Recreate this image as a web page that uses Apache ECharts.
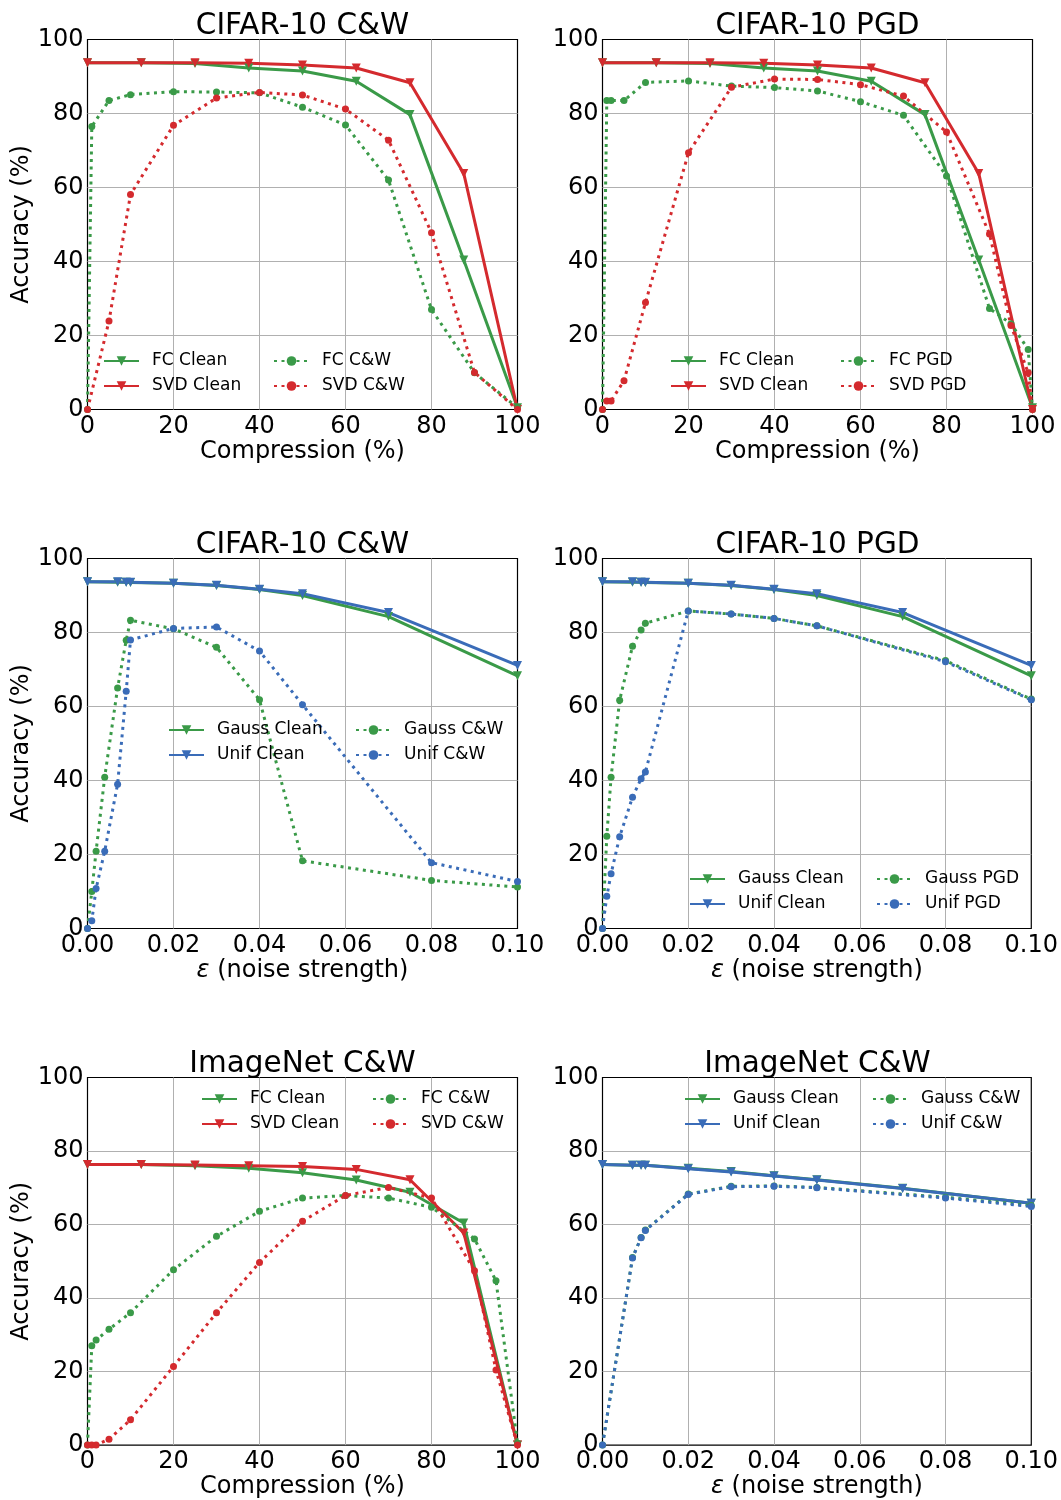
<!DOCTYPE html>
<html>
<head>
<meta charset="utf-8">
<script src="https://cdn.jsdelivr.net/npm/echarts@6/dist/echarts.min.js"></script>
<style>
  html, body { margin: 0; padding: 0; background: #fff; }
  #main { width: 1061px; height: 1500px; }
</style>
</head>
<body>
<div id="main"></div>
<script>
// x values
var compClean = [0, 12.5, 25, 37.5, 50, 62.5, 75, 87.5, 100]
var compAtk1 = [0, 1, 5, 10, 20, 30, 40, 50, 60, 70, 80, 90, 100]
var compAtk1Svd = [0, 5, 10, 20, 30, 40, 50, 60, 70, 80, 90, 100]
var compAtk2 = [0, 1, 2, 5, 10, 20, 30, 40, 50, 60, 70, 80, 90, 95, 99, 100]
var compAtk5 = [0, 1, 2, 5, 10, 20, 30, 40, 50, 60, 70, 80, 90, 95, 100]
var epsClean = [0, 0.007, 0.009, 0.01, 0.02, 0.03, 0.04, 0.05, 0.07, 0.1]
var epsAtk = [0, 0.001, 0.002, 0.004, 0.007, 0.009, 0.01, 0.02, 0.03, 0.04, 0.05, 0.08, 0.1]
var epsAtk6 = [0, 0.007, 0.009, 0.01, 0.02, 0.03, 0.04, 0.05, 0.08, 0.1]

// CIFAR-10 compression
var cifarFcClean = [93.7, 93.7, 93.5, 92.3, 91.5, 88.7, 79.7, 40.4, 0.5]
var cifarSvdClean = [93.7, 93.7, 93.7, 93.6, 93.1, 92.3, 88.3, 63.8, 0]
var cifarFcCw = [0, 76.5, 83.5, 85.1, 85.9, 85.8, 85.6, 81.7, 76.9, 62.0, 27.0, 9.9, 0.5]
var cifarSvdCw = [0, 23.9, 58.1, 76.8, 84.2, 85.7, 85.0, 81.2, 72.8, 47.8, 10.0, 0]
var cifarFcPgd = [0, 83.5, 83.5, 83.5, 88.4, 88.8, 87.4, 87.0, 86.1, 83.2, 79.5, 63.1, 27.3, 23.2, 16.2, 0]
var cifarSvdPgd = [0, 2.3, 2.3, 7.8, 28.9, 69.4, 87.1, 89.3, 89.2, 87.8, 84.7, 75.0, 47.4, 22.7, 9.9, 0]

// CIFAR-10 noise
var cifarGaussClean = [93.7, 93.6, 93.6, 93.5, 93.3, 92.7, 91.6, 90.0, 84.3, 68.3]
var cifarUnifClean = [93.7, 93.7, 93.6, 93.6, 93.3, 92.8, 91.7, 90.5, 85.4, 71.1]
var cifarGaussCw = [0, 10.0, 20.9, 40.9, 65.0, 77.9, 83.3, 81.0, 76.0, 61.8, 18.3, 13.0, 11.2]
var cifarUnifCw = [0, 2.1, 10.8, 20.9, 39.0, 64.1, 78.0, 81.1, 81.5, 75.0, 60.5, 17.8, 12.7]
var cifarGaussPgd = [0, 24.9, 40.9, 61.7, 76.3, 80.7, 82.5, 85.8, 85.0, 83.8, 81.8, 72.4, 62.0]
var cifarUnifPgd = [0, 8.7, 14.8, 24.8, 35.5, 40.5, 42.3, 85.8, 85.0, 83.8, 81.8, 72.1, 61.8]

// ImageNet compression
var imnFcClean = [76.3, 76.3, 76.0, 75.3, 74.1, 72.1, 68.8, 60.4, 0]
var imnSvdClean = [76.3, 76.3, 76.2, 76.0, 75.8, 75.0, 72.2, 57.7, 0]
var imnFcCw = [0, 27.0, 28.6, 31.5, 36.0, 47.7, 56.8, 63.6, 67.2, 67.9, 67.2, 64.7, 56.1, 44.7, 0.5]
var imnSvdCw = [0, 0, 0, 1.6, 6.9, 21.4, 36.0, 49.7, 60.9, 67.9, 70.1, 67.2, 47.4, 20.4, 0]

// ImageNet noise
var imnGaussClean = [76.3, 76.1, 76.1, 76.1, 75.3, 74.4, 73.3, 72.2, 69.9, 65.8]
var imnUnifClean = [76.3, 76.1, 76.1, 76.1, 75.2, 74.3, 73.2, 72.1, 69.8, 65.8]
var imnGaussCw = [0, 51.0, 56.5, 58.5, 68.3, 70.4, 70.5, 70.1, 67.4, 65.2]
var imnUnifCw = [0, 50.9, 56.4, 58.4, 68.2, 70.3, 70.4, 70.0, 67.2, 64.9]

var titles = ['CIFAR-10 C&W', 'CIFAR-10 PGD', 'CIFAR-10 C&W', 'CIFAR-10 PGD', 'ImageNet C&W', 'ImageNet C&W']

var GREEN = '#3a9a48', RED = '#d42a2e', BLUE = '#3a6cb8'
var FONT = 'DejaVu Sans'

function pairs(xs, ys) {
    return xs.map(function (x, i) { return [x, ys[i]] })
}

// panel geometry
var W = 430, H = 370
var lefts = [87.5, 602.5]
var tops = [39.5, 558.5, 1077.5]

// legend positions: [col1 left, col2 left, first row center y]
var legendPos = [
    [103, 273, 361],
    [670, 840, 361],
    [168, 355, 730],
    [689, 876, 879],
    [201, 372, 1099],
    [684, 872, 1099]
]

var panels = [
    { kind: 'comp', series: [
        ['FC Clean', GREEN, 'clean', compClean, cifarFcClean],
        ['SVD Clean', RED, 'clean', compClean, cifarSvdClean],
        ['FC C&W', GREEN, 'atk', compAtk1, cifarFcCw],
        ['SVD C&W', RED, 'atk', compAtk1Svd, cifarSvdCw]] },
    { kind: 'comp', series: [
        ['FC Clean', GREEN, 'clean', compClean, cifarFcClean],
        ['SVD Clean', RED, 'clean', compClean, cifarSvdClean],
        ['FC PGD', GREEN, 'atk', compAtk2, cifarFcPgd],
        ['SVD PGD', RED, 'atk', compAtk2, cifarSvdPgd]] },
    { kind: 'eps', series: [
        ['Gauss Clean', GREEN, 'clean', epsClean, cifarGaussClean],
        ['Unif Clean', BLUE, 'clean', epsClean, cifarUnifClean],
        ['Gauss C&W', GREEN, 'atk', epsAtk, cifarGaussCw],
        ['Unif C&W', BLUE, 'atk', epsAtk, cifarUnifCw]] },
    { kind: 'eps', series: [
        ['Gauss Clean', GREEN, 'clean', epsClean, cifarGaussClean],
        ['Unif Clean', BLUE, 'clean', epsClean, cifarUnifClean],
        ['Gauss PGD', GREEN, 'atk', epsAtk, cifarGaussPgd],
        ['Unif PGD', BLUE, 'atk', epsAtk, cifarUnifPgd]] },
    { kind: 'comp', series: [
        ['FC Clean', GREEN, 'clean', compClean, imnFcClean],
        ['SVD Clean', RED, 'clean', compClean, imnSvdClean],
        ['FC C&W', GREEN, 'atk', compAtk5, imnFcCw],
        ['SVD C&W', RED, 'atk', compAtk5, imnSvdCw]] },
    { kind: 'eps', series: [
        ['Gauss Clean', GREEN, 'clean', epsClean, imnGaussClean],
        ['Unif Clean', BLUE, 'clean', epsClean, imnUnifClean],
        ['Gauss C&W', GREEN, 'atk', epsAtk6, imnGaussCw],
        ['Unif C&W', BLUE, 'atk', epsAtk6, imnUnifCw]] }
]

var option = {
    animation: false,
    backgroundColor: '#fff',
    textStyle: { fontFamily: FONT },
    title: [], grid: [], xAxis: [], yAxis: [], legend: [], series: []
}

panels.forEach(function (p, i) {
    var col = i % 2, row = Math.floor(i / 2)
    var gl = lefts[col], gt = tops[row]
    option.grid.push({
        left: gl, top: gt, width: W, height: H,
        show: true, borderColor: '#000', borderWidth: 1.2, backgroundColor: 'transparent'
    })
    option.title.push({
        text: titles[i], left: gl + W / 2, top: gt - 28.5, textAlign: 'center', padding: 0,
        textStyle: { fontFamily: FONT, fontSize: 29.5, fontWeight: 'normal', color: '#000' }
    })
    var isEps = p.kind === 'eps'
    option.xAxis.push({
        gridIndex: i, type: 'value', min: 0, max: isEps ? 0.1 : 100, interval: isEps ? 0.02 : 20,
        name: isEps ? '{it|ε} (noise strength)' : 'Compression (%)',
        nameLocation: 'middle', nameGap: 29,
        nameTextStyle: {
            fontFamily: FONT, fontSize: 24, color: '#000',
            rich: { it: { fontFamily: FONT, fontSize: 24, fontStyle: 'italic', color: '#000' } }
        },
        axisLine: { show: false }, axisTick: { show: false },
        axisLabel: {
            fontFamily: FONT, fontSize: 24, color: '#000', margin: 5,
            formatter: function (v) { return isEps ? v.toFixed(2) : String(Math.round(v)) }
        },
        splitLine: { show: true, showMinLine: false, showMaxLine: false, lineStyle: { color: '#b0b0b0', width: 1 } }
    })
    option.yAxis.push({
        gridIndex: i, type: 'value', min: 0, max: 100, interval: 20,
        name: col === 0 ? 'Accuracy (%)' : '', nameLocation: 'middle', nameRotate: 90, nameGap: 50,
        nameTextStyle: { fontFamily: FONT, fontSize: 24, color: '#000' },
        axisLine: { show: false }, axisTick: { show: false },
        axisLabel: { fontFamily: FONT, fontSize: 24, color: '#000', margin: 4 },
        splitLine: { show: true, showMinLine: false, showMaxLine: false, lineStyle: { color: '#b0b0b0', width: 1 } }
    })
    p.series.forEach(function (s) {
        var clean = s[2] === 'clean'
        option.series.push({
            name: s[0], type: 'line', xAxisIndex: i, yAxisIndex: i,
            data: pairs(s[3], s[4]),
            symbol: clean ? 'triangle' : 'circle',
            symbolRotate: clean ? 180 : 0,
            symbolSize: clean ? 9 : 7,
            showAllSymbol: true,
            clip: false,
            lineStyle: { color: s[1], width: 3, type: clean ? 'solid' : [3, 4.5], cap: 'butt' },
            itemStyle: { color: s[1], borderWidth: 0 },
            emphasis: { disabled: true }
        })
    })
    var lp = legendPos[i]
    ;[0, 1].forEach(function (c) {
        option.legend.push({
            left: c === 0 ? lp[0] : lp[1], top: lp[2] - 12.5, orient: 'vertical',
            padding: 0, itemGap: 0, itemWidth: 35, itemHeight: 12,
            selectedMode: false,
            data: [p.series[c * 2][0], p.series[c * 2 + 1][0]],
            textStyle: { fontFamily: FONT, fontSize: 17, color: '#000', lineHeight: 25, padding: [0, 0, 0, 8] }
        })
    })
})

var myChart = echarts.init(document.getElementById('main'), null, { renderer: 'canvas' })
myChart.setOption(option)
</script>
</body>
</html>
